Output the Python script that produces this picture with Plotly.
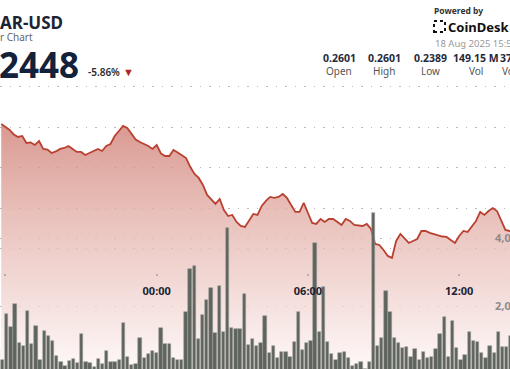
import pandas as pd
import plotly.graph_objects as go

# ---------------- data ----------------
price_start = "2025-08-17 17:50"
prices = [0.25543,0.25506,0.25469,0.25414,0.25383,0.25395,0.25309,0.25315,0.25284,0.25333,
          0.25235,0.25228,0.25185,0.25204,0.25235,0.25247,0.25272,0.25235,0.25198,0.25198,
          0.25160,0.25185,0.25210,0.25235,0.25210,0.25272,0.25296,0.25395,0.25457,0.25519,
          0.25494,0.25426,0.25352,0.25321,0.25296,0.25272,0.25235,0.25284,0.25179,0.25148,
          0.25148,0.25222,0.25191,0.25154,0.25123,0.25012,0.24926,0.24877,0.24790,0.24667,
          0.24605,0.24556,0.24617,0.24481,0.24407,0.24420,0.24333,0.24284,0.24272,0.24346,
          0.24432,0.24420,0.24531,0.24593,0.24642,0.24630,0.24642,0.24679,0.24630,0.24543,
          0.24457,0.24457,0.24568,0.24444,0.24321,0.24309,0.24370,0.24333,0.24370,0.24370,
          0.24333,0.24296,0.24370,0.24346,0.24296,0.24290,0.24284,0.24309,0.24247,0.24062,
          0.24049,0.23988,0.23914,0.23890,0.24099,0.24185,0.24123,0.24074,0.24099,0.24123,
          0.24222,0.24222,0.24198,0.24179,0.24167,0.24154,0.24148,0.24111,0.24074,0.24160,
          0.24222,0.24210,0.24272,0.24346,0.24457,0.24420,0.24469,0.24506,0.24469,0.24358,
          0.24235,0.24222,0.24222]

volume_start = "2025-08-17 17:40"
volumes_m = [0.71,0.41,
             1.76,1.38,2.06,0.91,0.82,1.85,0.88,1.41,0.41,1.26,
             1.12,0.97,0.53,0.35,0.24,0.38,0.44,0.32,1.18,0.35,
             0.32,0.21,0.44,0.29,0.68,0.35,0.35,0.41,1.50,0.50,
             0.26,0.29,1.06,0.47,0.59,0.68,0.62,1.35,0.88,0.88,
             0.47,0.41,0.41,1.82,3.09,3.18,1.03,1.74,2.18,2.53,
             1.21,2.59,1.24,4.29,1.35,1.32,1.32,2.35,0.85,1.03,
             0.82,0.91,1.71,0.62,0.82,0.47,0.65,0.65,0.50,0.94,
             1.82,0.71,0.91,0.97,3.85,1.24,2.56,0.94,0.59,0.41,
             0.62,0.65,0.47,0.24,0.29,0.35,0.15,0.35,4.74,0.82,
             1.06,2.44,1.82,1.06,0.91,0.76,0.79,0.50,0.74,0.41,
             0.65,0.47,0.50,0.74,1.18,1.68,0.50,1.56,0.76,0.41,
             0.56,1.24,0.97,0.94,0.62,0.47,0.82,0.62,1.24,0.79,
             0.79,1.12]

time_ticks = ["2025-08-17 18:00", "2025-08-18 00:00", "2025-08-18 06:00", "2025-08-18 12:00"]
time_labels = ["18:00", "00:00", "06:00", "12:00"]
price_grid = [0.240, 0.245, 0.250, 0.255, 0.260]
vol_ticks = [2, 4]
vol_labels = ["2,000,000", "4,000,000"]

stat_values = ["0.2601", "0.2601", "0.2389", "149.15 M", "37.30 M"]
stat_names = ["Open", "High", "Low", "Vol", "Vol (USD)"]

price_times = pd.date_range(price_start, periods=len(prices), freq="10min")
volume_times = pd.date_range(volume_start, periods=len(volumes_m), freq="10min")

W, H = 510, 369
FONT = "Noto Sans"
GRID = "#b9b9b9"

fig = go.Figure()

fig.add_trace(go.Scatter(
    x=price_times, y=prices, mode="lines",
    line=dict(color="#b94131", width=1.8),
    fill="tozeroy",
    fillgradient=dict(type="vertical",
                      colorscale=[[0, "rgba(253,246,245,0.75)"],
                                  [0.3, "rgba(240,210,206,0.75)"],
                                  [0.6, "rgba(228,178,171,0.78)"],
                                  [1, "rgba(208,128,118,0.8)"]],
                      start=0.2252, stop=0.2556),
    hoverinfo="skip", showlegend=False,
))

fig.add_trace(go.Bar(
    x=volume_times, y=volumes_m, xaxis="x2", yaxis="y2",
    width=480000,
    marker=dict(color="#5e645e", line=dict(color="rgba(160,160,155,0.9)", width=0.6)),
    hoverinfo="skip", showlegend=False,
))


def py(px):
    return 1 - px / H


def pxx(px):
    return px / W


fig.update_layout(
    width=W, height=H,
    margin=dict(l=0, r=0, t=0, b=0, autoexpand=False),
    paper_bgcolor="white", plot_bgcolor="white",
    bargap=0,
    xaxis=dict(type="date", domain=[0, 1], automargin=False,
               range=["2025-08-17 17:47:02", "2025-08-18 14:00:57"],
               tickvals=time_ticks, ticktext=time_labels,
               showgrid=False, zeroline=False, showline=False,
               ticks="outside", ticklen=2, tickwidth=2, tickcolor="#b0b0b0",
               anchor="free", position=py(273),
               ticklabelstandoff=6,
               tickfont=dict(family=FONT, size=11, color="#1b2433", weight=700)),
    yaxis=dict(range=[0.22518, 0.27074], tickvals=price_grid, domain=[0, 1],
               automargin=False,
               showticklabels=False, showgrid=True, gridcolor=GRID,
               griddash="1.5px,8px", gridwidth=1, zeroline=False),
    xaxis2=dict(type="date", overlaying="x", automargin=False,
                range=["2025-08-17 17:43:55", "2025-08-18 14:07:49"],
                visible=False),
    yaxis2=dict(overlaying="y", range=[0.147, 11.0], tickvals=vol_ticks,
                automargin=False,
                ticktext=vol_labels, side="right", anchor="free",
                position=pxx(494), showgrid=True, gridcolor=GRID,
                griddash="1.5px,8px", gridwidth=1, zeroline=False,
                tickfont=dict(family=FONT, size=11, color="#8c8c8c", weight=700)),
)

ann = []


def text(x, y, s, size, color, weight=400, xanchor="left"):
    ann.append(dict(x=pxx(x), y=py(y), xref="paper", yref="paper", text=s,
                    showarrow=False, xanchor=xanchor, yanchor="middle",
                    font=dict(family=FONT, size=size, color=color, weight=weight)))


text(-2, 22.5, "AR-USD", 17, "#1b2433", 700)
text(-2, 37.5, "r Chart", 10, "#666666")
text(-3, 64, "2448", 35, "#14213a", 700)
text(86, 72, "-5.86%", 10, "#2b2b2b", 600)
text(128, 72, "▼", 11, "#b3261e", 400, "center")
text(432, 10, "Powered by", 8.5, "#333333", 700)
text(446, 27, "CoinDesk", 13, "#111111", 700)
text(433, 44, "18 Aug 2025 15:59", 9.5, "#9a9a9a")

val_x = [339, 384, 430, 475.5]
for vx, v, n in zip(val_x, stat_values[:4], stat_names[:4]):
    text(vx, 58, v, 10.5, "#1f2a3a", 700, "center")
    text(vx, 71, n, 10, "#555555", 400, "center")
text(498, 58, stat_values[4], 10.5, "#1f2a3a", 700)
text(500, 71, stat_names[4], 10, "#555555")

fig.update_layout(annotations=ann)

# CoinDesk mark (decorative)
fig.add_shape(type="rect", xref="paper", yref="paper",
              x0=pxx(434), x1=pxx(445), y0=py(32), y1=py(21),
              line=dict(color="#111111", width=2, dash="dot"))

fig.write_html("out.html",
               config={"displayModeBar": False, "responsive": False},
               post_script="document.body.style.margin='0';document.body.style.overflow='hidden';")
